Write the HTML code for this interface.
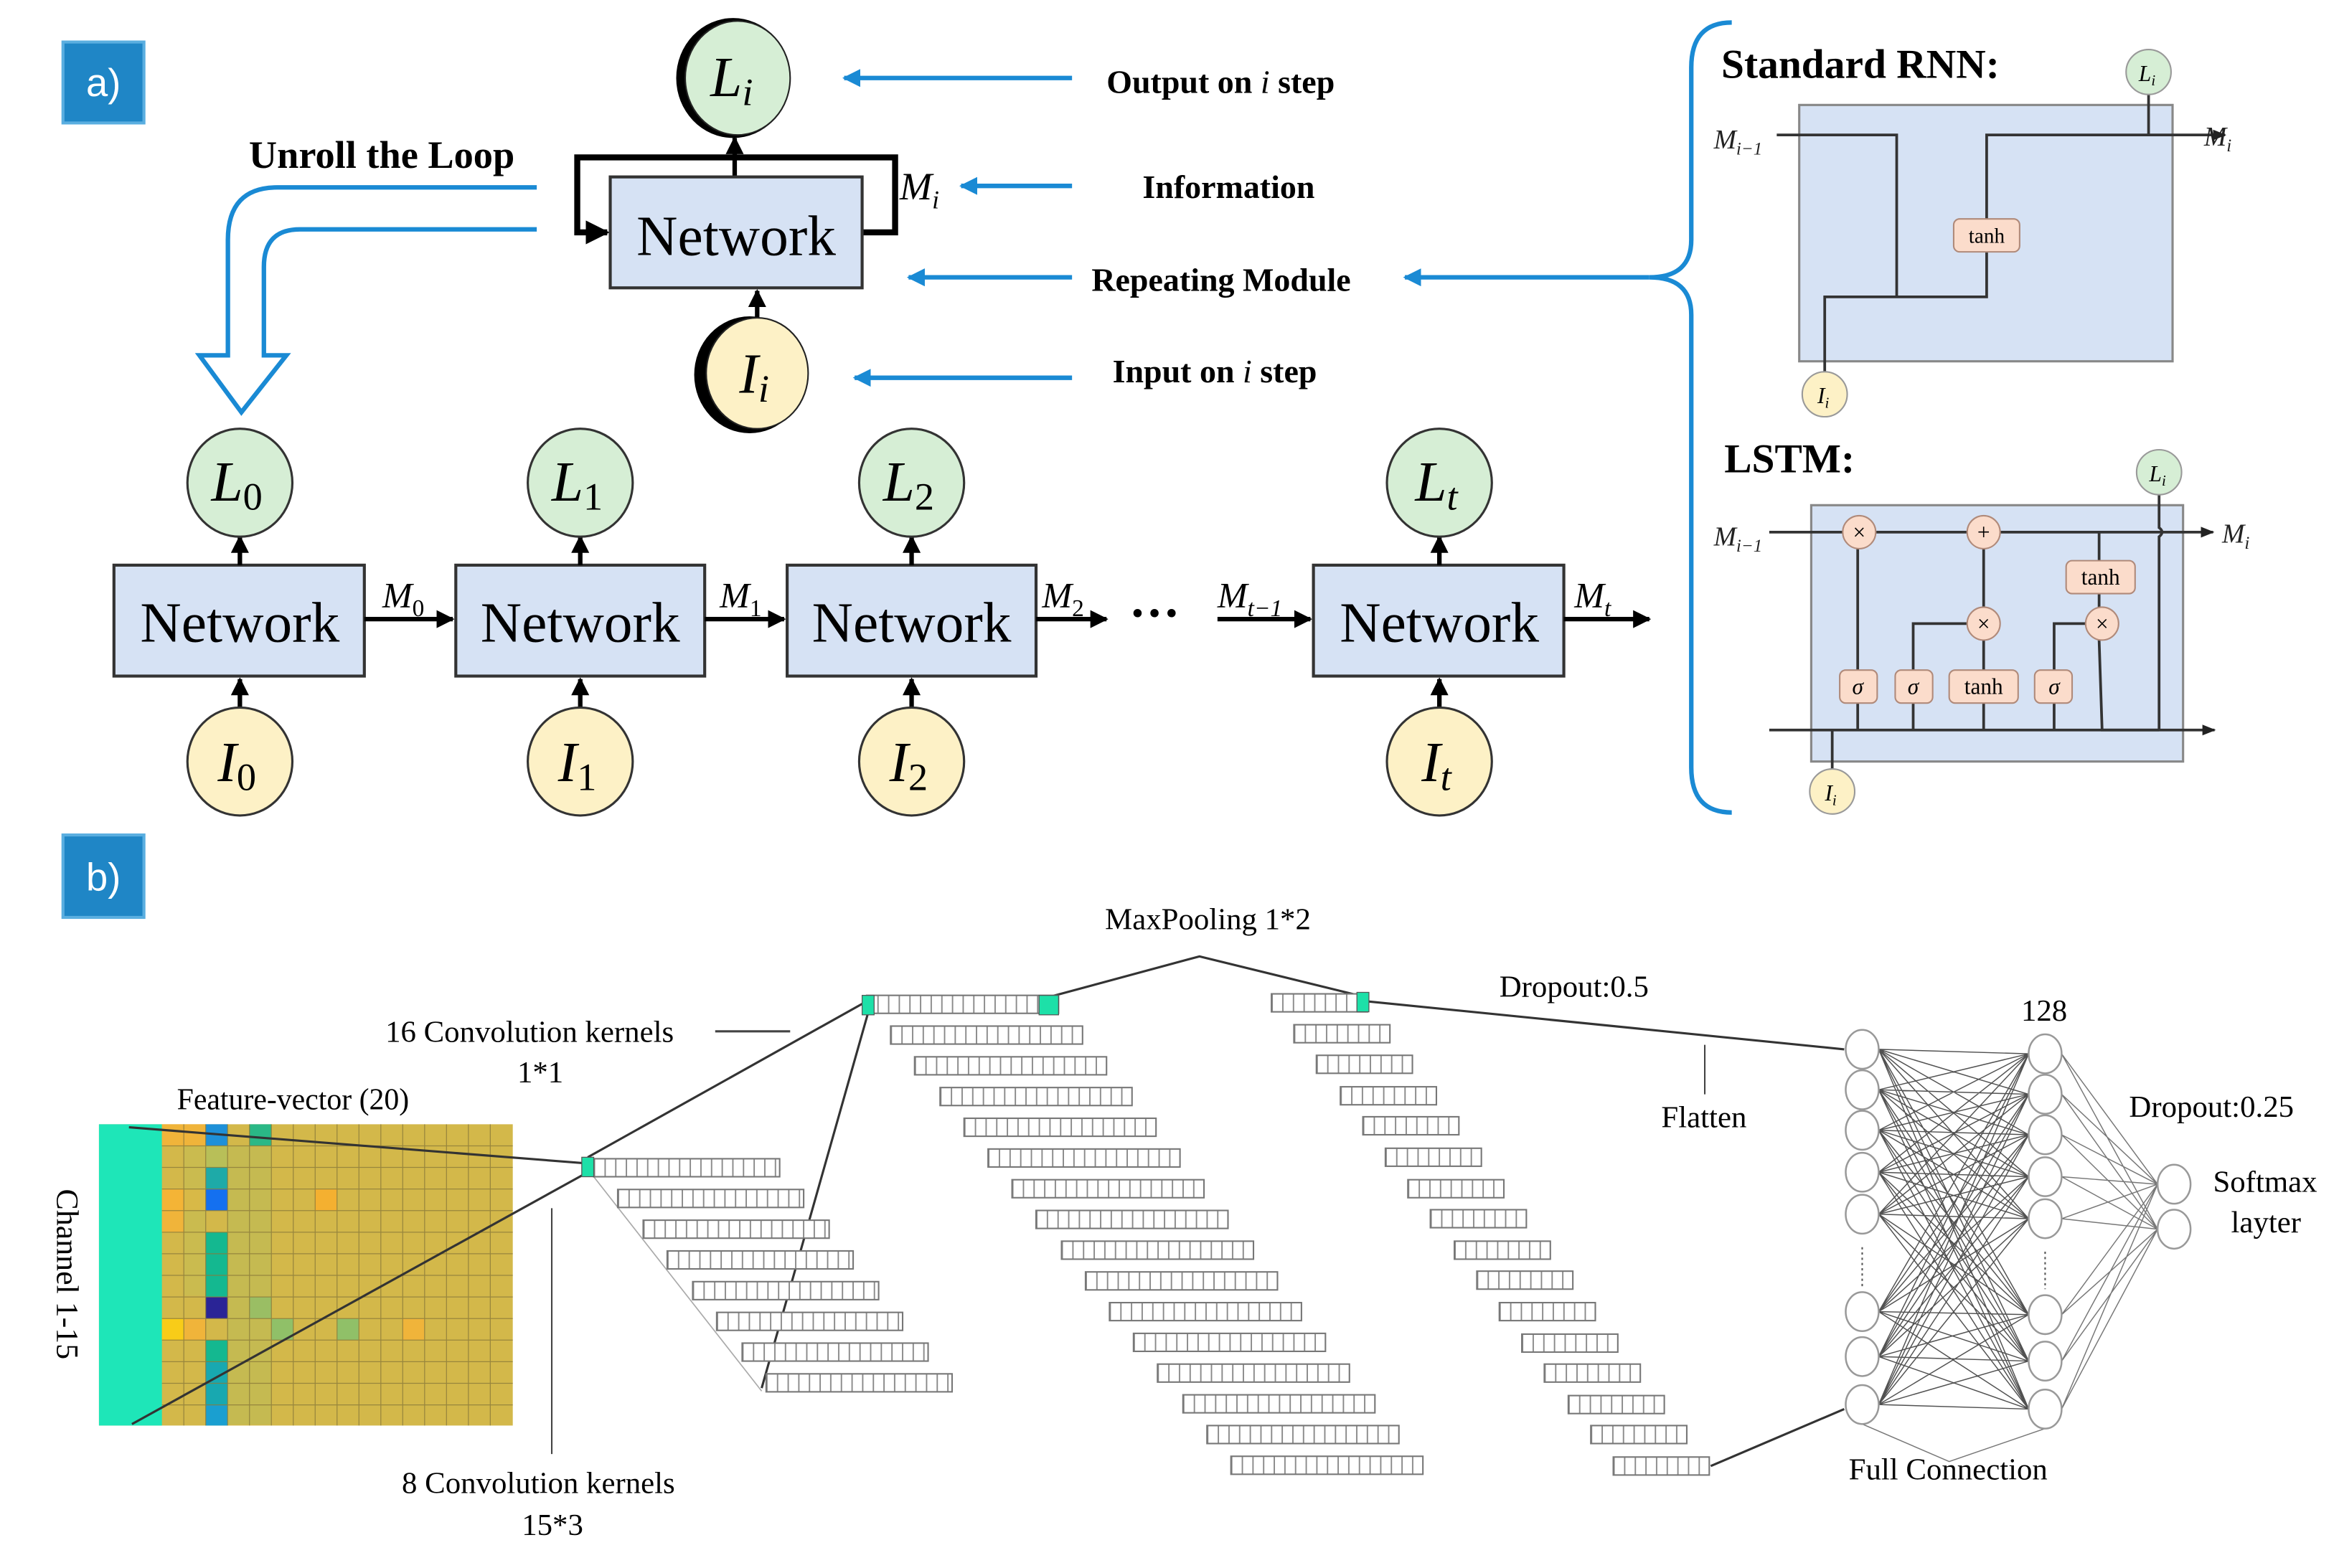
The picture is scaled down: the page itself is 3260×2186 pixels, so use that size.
<!DOCTYPE html>
<html><head><meta charset="utf-8"><style>
html,body{margin:0;padding:0;background:#fff;}
svg{display:block;}
text{font-family:"Liberation Serif",serif;}
.b{font-weight:bold;}
.it{font-style:italic;}
</style></head><body>
<svg width="3260" height="2186" viewBox="0 0 1560 1046" xmlns="http://www.w3.org/2000/svg">
<defs>
<marker id="ah" viewBox="0 0 10 10" refX="9" refY="5" markerWidth="4" markerHeight="4" orient="auto"><path d="M0,0L10,5L0,10z" fill="#000"/></marker>
<marker id="ahs" viewBox="0 0 10 10" refX="9" refY="5" markerWidth="5" markerHeight="5" orient="auto"><path d="M0,1L10,5L0,9z" fill="#222"/></marker>
<marker id="ab" viewBox="0 0 10 10" refX="9" refY="5" markerWidth="4" markerHeight="4" orient="auto"><path d="M0,0L10,5L0,10z" fill="#1a8ad4"/></marker>
<pattern id="t2" width="7.1" height="12" patternUnits="userSpaceOnUse"><rect width="7.1" height="12" fill="#fff"/><line x1="0.5" y1="0" x2="0.5" y2="12" stroke="#888" stroke-width="0.9"/></pattern>
<g id="bar1"><rect x="0" y="0" width="124" height="12" fill="url(#t2)" stroke="#777" stroke-width="1"/></g>
<g id="bar2"><rect x="0" y="0" width="128" height="12" fill="url(#t2)" stroke="#777" stroke-width="1"/></g>
<g id="bar3"><rect x="0" y="0" width="64" height="12" fill="url(#t2)" stroke="#777" stroke-width="1"/></g>
</defs>

<rect x="42" y="28" width="54" height="54" fill="#1f86c6" stroke="#5aaee0" stroke-width="2"/>
<text x="69" y="64" font-size="26" fill="#fff" text-anchor="middle" style="font-family:'Liberation Sans',sans-serif">a)</text>

<ellipse cx="489" cy="52" rx="38" ry="40" fill="#000"/>
<ellipse cx="492" cy="52" rx="35" ry="38" fill="#d6eed5" stroke="#222" stroke-width="1"/>
<text x="488" y="64" font-size="38" class="it" text-anchor="middle">L<tspan font-size="26" dy="6">i</tspan></text>

<path d="M490 118 L490 92" stroke="#000" stroke-width="3" marker-end="url(#ah)"/>
<path d="M575 155 L597 155 L597 105 L385 105 L385 155 L405 155" fill="none" stroke="#000" stroke-width="4" marker-end="url(#ah)"/>
<rect x="407" y="118" width="168" height="74" fill="#d6e2f4" stroke="#333" stroke-width="2"/>
<text x="491" y="170" font-size="38" text-anchor="middle">Network</text>
<text x="600" y="133" font-size="26" class="it">M<tspan font-size="17" dy="6">i</tspan></text>

<path d="M505 212 L505 194" stroke="#000" stroke-width="3" marker-end="url(#ah)"/>
<ellipse cx="500" cy="250" rx="37" ry="39" fill="#000"/>
<ellipse cx="505" cy="249" rx="34" ry="37" fill="#fdf1c6" stroke="#222" stroke-width="1"/>
<text x="503" y="262" font-size="38" class="it" text-anchor="middle">I<tspan font-size="26" dy="6">i</tspan></text>

<g stroke="#1a8ad4" stroke-width="3" marker-end="url(#ab)">
<line x1="715" y1="52" x2="563" y2="52"/>
<line x1="715" y1="124" x2="641" y2="124"/>
<line x1="715" y1="185" x2="606" y2="185"/>
<line x1="715" y1="252" x2="570" y2="252"/>
<line x1="1100" y1="185" x2="937" y2="185"/>
</g>
<g font-size="22" class="b">
<text x="738" y="62">Output on <tspan class="it" font-weight="normal">i</tspan> step</text>
<text x="762" y="132">Information</text>
<text x="728" y="194">Repeating Module</text>
<text x="742" y="255">Input on <tspan class="it" font-weight="normal">i</tspan> step</text>
</g>
<text x="166" y="112" font-size="26" class="b">Unroll the Loop</text>

<path d="M1155 15 Q1128 15 1128 45 L1128 160 Q1128 185 1100 185 Q1128 185 1128 210 L1128 512 Q1128 542 1155 542" fill="none" stroke="#1a8ad4" stroke-width="3"/>

<path d="M358 125 L185 125 Q152 125 152 160 L152 237 L133 237 L161 275 L191 237 L176 237 L176 178 Q176 153 200 153 L358 153" fill="#fff" stroke="#1a8ad4" stroke-width="3"/>

<g>
<rect x="76" y="377" width="167" height="74" fill="#d6e2f4" stroke="#333" stroke-width="2"/>
<rect x="304" y="377" width="166" height="74" fill="#d6e2f4" stroke="#333" stroke-width="2"/>
<rect x="525" y="377" width="166" height="74" fill="#d6e2f4" stroke="#333" stroke-width="2"/>
<rect x="876" y="377" width="167" height="74" fill="#d6e2f4" stroke="#333" stroke-width="2"/>
<g font-size="38" text-anchor="middle">
<text x="160" y="428">Network</text><text x="387" y="428">Network</text><text x="608" y="428">Network</text><text x="960" y="428">Network</text>
</g>
<g stroke="#000" stroke-width="3" marker-end="url(#ah)">
<line x1="160" y1="377" x2="160" y2="358"/><line x1="387" y1="377" x2="387" y2="358"/><line x1="608" y1="377" x2="608" y2="358"/><line x1="960" y1="377" x2="960" y2="358"/>
<line x1="160" y1="472" x2="160" y2="453"/><line x1="387" y1="472" x2="387" y2="453"/><line x1="608" y1="472" x2="608" y2="453"/><line x1="960" y1="472" x2="960" y2="453"/>
<line x1="243" y1="413" x2="302" y2="413"/><line x1="470" y1="413" x2="523" y2="413"/><line x1="691" y1="413" x2="738" y2="413"/><line x1="812" y1="413" x2="874" y2="413"/><line x1="1043" y1="413" x2="1100" y2="413"/>
</g>
<g fill="#d6eed5" stroke="#333" stroke-width="1.5">
<ellipse cx="160" cy="322" rx="35" ry="36"/><ellipse cx="387" cy="322" rx="35" ry="36"/><ellipse cx="608" cy="322" rx="35" ry="36"/><ellipse cx="960" cy="322" rx="35" ry="36"/>
</g>
<g fill="#fdf1c6" stroke="#333" stroke-width="1.5">
<ellipse cx="160" cy="508" rx="35" ry="36"/><ellipse cx="387" cy="508" rx="35" ry="36"/><ellipse cx="608" cy="508" rx="35" ry="36"/><ellipse cx="960" cy="508" rx="35" ry="36"/>
</g>
<g font-size="38" class="it" text-anchor="middle">
<text x="158" y="334">L<tspan font-size="26" dy="6" font-style="normal">0</tspan></text>
<text x="385" y="334">L<tspan font-size="26" dy="6" font-style="normal">1</tspan></text>
<text x="606" y="334">L<tspan font-size="26" dy="6" font-style="normal">2</tspan></text>
<text x="958" y="334">L<tspan font-size="26" dy="6">t</tspan></text>
<text x="158" y="521">I<tspan font-size="26" dy="6" font-style="normal">0</tspan></text>
<text x="385" y="521">I<tspan font-size="26" dy="6" font-style="normal">1</tspan></text>
<text x="606" y="521">I<tspan font-size="26" dy="6" font-style="normal">2</tspan></text>
<text x="958" y="521">I<tspan font-size="26" dy="6">t</tspan></text>
</g>
<g font-size="24" class="it">
<text x="255" y="405">M<tspan font-size="16" dy="6" font-style="normal">0</tspan></text>
<text x="480" y="405">M<tspan font-size="16" dy="6" font-style="normal">1</tspan></text>
<text x="695" y="405">M<tspan font-size="16" dy="6" font-style="normal">2</tspan></text>
<text x="812" y="405">M<tspan font-size="16" dy="6">t−1</tspan></text>
<text x="1050" y="405">M<tspan font-size="16" dy="6">t</tspan></text>
</g>
<text x="753" y="420" font-size="34" class="b">···</text>
</g>

<text x="1148" y="52" font-size="27.5" class="b">Standard RNN:</text>
<rect x="1200" y="70" width="249" height="171" fill="#d6e2f4" stroke="#888" stroke-width="1.5"/>
<g fill="none" stroke="#333" stroke-width="1.8">
<path d="M1185 90 L1265 90 L1265 198"/>
<path d="M1217 250 L1217 198 L1325 198 L1325 168"/>
<path d="M1325 146 L1325 90 L1484 90" marker-end="url(#ahs)"/>
<path d="M1433 90 L1433 63"/>
</g>
<rect x="1303" y="146" width="44" height="22" rx="4" fill="#fbdccb" stroke="#b08a7a"/>
<text x="1325" y="162" font-size="14" text-anchor="middle">tanh</text>
<circle cx="1433" cy="48" r="15" fill="#d6eed5" stroke="#999"/>
<text x="1432" y="54" font-size="15" class="it" text-anchor="middle">L<tspan font-size="10" dy="3">i</tspan></text>
<circle cx="1217" cy="263" r="15" fill="#fdf1c6" stroke="#999"/>
<text x="1216" y="269" font-size="15" class="it" text-anchor="middle">I<tspan font-size="10" dy="3">i</tspan></text>
<text x="1143" y="99" font-size="18" class="it" fill="#222">M<tspan font-size="12" dy="4">i−1</tspan></text>
<text x="1470" y="97" font-size="18" class="it" fill="#222">M<tspan font-size="12" dy="4">i</tspan></text>

<text x="1150" y="315" font-size="27.5" class="b">LSTM:</text>
<rect x="1208" y="337" width="248" height="171" fill="#d6e2f4" stroke="#888" stroke-width="1.5"/>
<g fill="none" stroke="#333" stroke-width="1.8">
<path d="M1180 355 L1476 355" marker-end="url(#ahs)"/>
<path d="M1180 487 L1477 487" marker-end="url(#ahs)"/>
<path d="M1239 487 L1239 366"/>
<path d="M1276 487 L1276 416 L1312 416"/>
<path d="M1323 487 L1323 427 M1323 405 L1323 366"/>
<path d="M1370 487 L1370 416 L1391 416"/>
<path d="M1400 355 L1400 427 L1402 487 L1440 487"/>
<path d="M1440 487 L1440 358 Q1444 355 1440 352 L1440 330"/>
<path d="M1222 487 L1222 515"/>
</g>
<g fill="#fbdccb" stroke="#b08a7a">
<circle cx="1240" cy="355" r="11"/><circle cx="1323" cy="355" r="11"/><circle cx="1323" cy="416" r="11"/><circle cx="1402" cy="416" r="11"/>
<rect x="1227" y="447" width="25" height="22" rx="4"/><rect x="1264" y="447" width="25" height="22" rx="4"/>
<rect x="1300" y="447" width="46" height="22" rx="4"/><rect x="1357" y="447" width="25" height="22" rx="4"/>
<rect x="1378" y="374" width="46" height="22" rx="4"/>
</g>
<g font-size="15" text-anchor="middle">
<text x="1240" y="360">×</text><text x="1323" y="360">+</text><text x="1323" y="421">×</text><text x="1402" y="421">×</text>
<text x="1239" y="463" class="it">σ</text><text x="1276" y="463" class="it">σ</text><text x="1323" y="463">tanh</text><text x="1370" y="463" class="it">σ</text>
<text x="1401" y="390">tanh</text>
</g>
<circle cx="1440" cy="315" r="15" fill="#d6eed5" stroke="#999"/>
<text x="1439" y="321" font-size="15" class="it" text-anchor="middle">L<tspan font-size="10" dy="3">i</tspan></text>
<circle cx="1222" cy="528" r="15" fill="#fdf1c6" stroke="#999"/>
<text x="1221" y="534" font-size="15" class="it" text-anchor="middle">I<tspan font-size="10" dy="3">i</tspan></text>
<text x="1143" y="364" font-size="18" class="it" fill="#222">M<tspan font-size="12" dy="4">i−1</tspan></text>
<text x="1482" y="362" font-size="18" class="it" fill="#222">M<tspan font-size="12" dy="4">i</tspan></text>

<rect x="42" y="557" width="54" height="55" fill="#1f86c6" stroke="#5aaee0" stroke-width="2"/>
<text x="69" y="594" font-size="26" fill="#fff" text-anchor="middle" style="font-family:'Liberation Sans',sans-serif">b)</text>

<rect x="66" y="750" width="276" height="201" fill="#d3b84a"/>
<rect x="66" y="750" width="42" height="201" fill="#1ee6b8"/>
<g>
<rect x="137.2" y="750" width="14.6" height="14.4" fill="#1e90d8"/>
<rect x="137.2" y="764.4" width="14.6" height="14.4" fill="#b8bf58"/>
<rect x="137.2" y="778.8" width="14.6" height="14.4" fill="#1eaaa8"/>
<rect x="137.2" y="793.2" width="14.6" height="14.4" fill="#1470f0"/>
<rect x="137.2" y="822" width="14.6" height="43.2" fill="#14b890"/>
<rect x="137.2" y="865.2" width="14.6" height="14.4" fill="#2a2496"/>
<rect x="137.2" y="894" width="14.6" height="14.4" fill="#14b890"/>
<rect x="137.2" y="908.4" width="14.6" height="28.8" fill="#18a8b0"/>
<rect x="137.2" y="937.2" width="14.6" height="13.8" fill="#1a9fd0"/>
<rect x="166.4" y="750" width="14.6" height="14.4" fill="#2ab886"/>
<rect x="108" y="750" width="29" height="14.4" fill="#f0b43a"/>
<rect x="108" y="793.2" width="29" height="14.4" fill="#f4b436"/>
<rect x="108" y="807.6" width="14.6" height="14.4" fill="#f0b43a"/>
<rect x="108" y="879.6" width="14.6" height="14.4" fill="#f8cc18"/>
<rect x="122.6" y="879.6" width="14.6" height="14.4" fill="#f0b43a"/>
<rect x="210" y="793.2" width="14.6" height="14.4" fill="#f4b030"/>
<rect x="166.4" y="865.2" width="14.6" height="14.4" fill="#7cc070"/>
<rect x="181" y="879.6" width="14.6" height="14.4" fill="#90c068"/>
<rect x="224.6" y="879.6" width="14.6" height="14.4" fill="#90c068"/>
<rect x="268.4" y="879.6" width="14.6" height="14.4" fill="#f0b43a"/>
<rect x="122.6" y="764.4" width="14.6" height="100" fill="#c4bc54" opacity="0.6"/>
<rect x="151.8" y="764.4" width="29" height="186" fill="#b8bc58" opacity="0.5"/>
</g>
<g stroke="#8a7a3a" stroke-width="0.6" opacity="0.8">
<path d="M122.6 750V951M137.2 750V951M151.8 750V951M166.4 750V951M181 750V951M195.6 750V951M210.2 750V951M224.8 750V951M239.4 750V951M254 750V951M268.6 750V951M283.2 750V951M297.8 750V951M312.4 750V951M327 750V951"/>
<path d="M108 764.4H342M108 778.8H342M108 793.2H342M108 807.6H342M108 822H342M108 836.4H342M108 850.8H342M108 865.2H342M108 879.6H342M108 894H342M108 908.4H342M108 922.8H342M108 937.2H342"/>
</g>
<text transform="translate(38,850) rotate(90)" font-size="21" text-anchor="middle">Channel 1-15</text>
<text x="118" y="740" font-size="20">Feature-vector (20)</text>

<g stroke="#333" stroke-width="1.5" fill="none">
<line x1="86" y1="752" x2="390" y2="776"/>
<line x1="88" y1="950" x2="392" y2="782"/>
<line x1="392" y1="772" x2="578" y2="668"/>
<line x1="508" y1="926" x2="580" y2="672"/>
<path d="M700 665 L800 638 L910 665"/>
<line x1="912" y1="668" x2="1230" y2="700"/>
<line x1="1141" y1="978" x2="1230" y2="940"/>
</g>
<line x1="396" y1="785" x2="508" y2="928" stroke="#aaa" stroke-width="0.8"/>

<use href="#bar1" x="396" y="773"/><use href="#bar1" x="412" y="793.5"/><use href="#bar1" x="429" y="814"/><use href="#bar1" x="445" y="834.5"/>
<use href="#bar1" x="462" y="855"/><use href="#bar1" x="478" y="875.5"/><use href="#bar1" x="495" y="896"/><use href="#bar1" x="511" y="916.5"/>
<rect x="388" y="772" width="8" height="13" fill="#1de0a8" stroke="#555" stroke-width="0.6"/>
<line x1="368" y1="806" x2="368" y2="970" stroke="#444" stroke-width="1"/>

<use href="#bar2" x="578" y="664"/><use href="#bar2" x="594" y="684.5"/><use href="#bar2" x="610" y="705"/><use href="#bar2" x="627" y="725.5"/>
<use href="#bar2" x="643" y="746"/><use href="#bar2" x="659" y="766.5"/><use href="#bar2" x="675" y="787"/><use href="#bar2" x="691" y="807.5"/>
<use href="#bar2" x="708" y="828"/><use href="#bar2" x="724" y="848.5"/><use href="#bar2" x="740" y="869"/><use href="#bar2" x="756" y="889.5"/>
<use href="#bar2" x="772" y="910"/><use href="#bar2" x="789" y="930.5"/><use href="#bar2" x="805" y="951"/><use href="#bar2" x="821" y="971.5"/>
<rect x="575" y="664" width="8" height="13" fill="#1de0a8" stroke="#555" stroke-width="0.6"/>
<rect x="693" y="664" width="13" height="13" fill="#1de0a8" stroke="#555" stroke-width="0.6"/>

<use href="#bar3" x="848" y="663"/><use href="#bar3" x="863" y="683.6"/><use href="#bar3" x="878" y="704"/><use href="#bar3" x="894" y="725"/>
<use href="#bar3" x="909" y="745"/><use href="#bar3" x="924" y="766"/><use href="#bar3" x="939" y="787"/><use href="#bar3" x="954" y="807"/>
<use href="#bar3" x="970" y="828"/><use href="#bar3" x="985" y="848"/><use href="#bar3" x="1000" y="869"/><use href="#bar3" x="1015" y="890"/>
<use href="#bar3" x="1030" y="910"/><use href="#bar3" x="1046" y="931"/><use href="#bar3" x="1061" y="951"/><use href="#bar3" x="1076" y="972"/>
<rect x="905" y="662" width="8" height="13" fill="#1de0a8" stroke="#555" stroke-width="0.6"/>

<g font-size="20.5">
<text x="257" y="695">16 Convolution kernels</text>
<text x="345" y="722">1*1</text>
<text x="268" y="996">8 Convolution kernels</text>
<text x="348" y="1024">15*3</text>
<text x="737" y="620">MaxPooling 1*2</text>
<text x="1000" y="665">Dropout:0.5</text>
<text x="1108" y="752">Flatten</text>
<text x="1348" y="681">128</text>
<text x="1420" y="745">Dropout:0.25</text>
<text x="1476" y="795">Softmax</text>
<text x="1488" y="822">layter</text>
<text x="1233" y="987">Full Connection</text>
</g>
<line x1="477" y1="688" x2="527" y2="688" stroke="#444" stroke-width="1.5"/>
<line x1="1137" y1="697" x2="1137" y2="730" stroke="#444" stroke-width="1"/>

<path stroke="#333" stroke-width="0.7" fill="none" opacity="0.85" d="
M1253 700L1353 703M1253 700L1353 730M1253 700L1353 757M1253 700L1353 785M1253 700L1353 813M1253 700L1353 877M1253 700L1353 908M1253 700L1353 940
M1253 727L1353 703M1253 727L1353 730M1253 727L1353 757M1253 727L1353 785M1253 727L1353 813M1253 727L1353 877M1253 727L1353 908M1253 727L1353 940
M1253 754L1353 703M1253 754L1353 730M1253 754L1353 757M1253 754L1353 785M1253 754L1353 813M1253 754L1353 877M1253 754L1353 908M1253 754L1353 940
M1253 782L1353 703M1253 782L1353 730M1253 782L1353 757M1253 782L1353 785M1253 782L1353 813M1253 782L1353 877M1253 782L1353 908M1253 782L1353 940
M1253 810L1353 703M1253 810L1353 730M1253 810L1353 757M1253 810L1353 785M1253 810L1353 813M1253 810L1353 877M1253 810L1353 908M1253 810L1353 940
M1253 875L1353 703M1253 875L1353 730M1253 875L1353 757M1253 875L1353 785M1253 875L1353 813M1253 875L1353 877M1253 875L1353 908M1253 875L1353 940
M1253 905L1353 703M1253 905L1353 730M1253 905L1353 757M1253 905L1353 785M1253 905L1353 813M1253 905L1353 877M1253 905L1353 908M1253 905L1353 940
M1253 937L1353 703M1253 937L1353 730M1253 937L1353 757M1253 937L1353 785M1253 937L1353 813M1253 937L1353 877M1253 937L1353 908M1253 937L1353 940"/>
<path stroke="#777" stroke-width="0.7" fill="none" d="
M1375 703L1439 790M1375 703L1439 820M1375 730L1439 790M1375 730L1439 820M1375 757L1439 790M1375 757L1439 820M1375 785L1439 790M1375 785L1439 820
M1375 813L1439 790M1375 813L1439 820M1375 877L1439 790M1375 877L1439 820M1375 908L1439 790M1375 908L1439 820M1375 940L1439 790M1375 940L1439 820
M1242 950L1300 975L1364 953"/>
<g fill="#fff" stroke="#999" stroke-width="1.2">
<ellipse cx="1242" cy="700" rx="11" ry="13"/><ellipse cx="1242" cy="727" rx="11" ry="13"/><ellipse cx="1242" cy="754" rx="11" ry="13"/><ellipse cx="1242" cy="782" rx="11" ry="13"/>
<ellipse cx="1242" cy="810" rx="11" ry="13"/><ellipse cx="1242" cy="875" rx="11" ry="13"/><ellipse cx="1242" cy="905" rx="11" ry="13"/><ellipse cx="1242" cy="937" rx="11" ry="13"/>
<ellipse cx="1364" cy="703" rx="11" ry="13"/><ellipse cx="1364" cy="730" rx="11" ry="13"/><ellipse cx="1364" cy="757" rx="11" ry="13"/><ellipse cx="1364" cy="785" rx="11" ry="13"/>
<ellipse cx="1364" cy="813" rx="11" ry="13"/><ellipse cx="1364" cy="877" rx="11" ry="13"/><ellipse cx="1364" cy="908" rx="11" ry="13"/><ellipse cx="1364" cy="940" rx="11" ry="13"/>
<ellipse cx="1450" cy="790" rx="11" ry="13"/><ellipse cx="1450" cy="820" rx="11" ry="13"/>
</g>
<g stroke="#555" stroke-width="1" stroke-dasharray="1.5,2">
<line x1="1242" y1="832" x2="1242" y2="858"/><line x1="1364" y1="835" x2="1364" y2="860"/>
</g>
</svg>
</body></html>
